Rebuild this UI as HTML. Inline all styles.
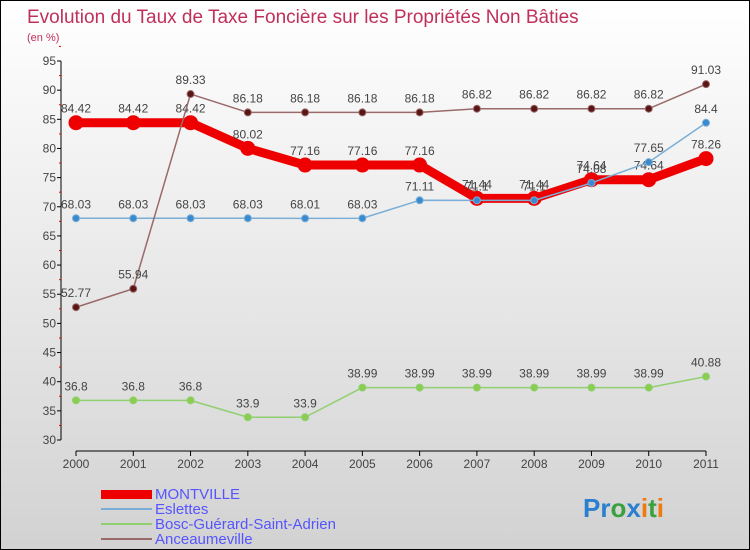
<!DOCTYPE html>
<html><head><meta charset="utf-8"><style>
body{margin:0}
#c{width:748px;height:548px;border:1px solid #000;background:linear-gradient(#fff,#d2d2d2);position:relative;font-family:"Liberation Sans",sans-serif;overflow:hidden}
</style></head><body>
<div id="c">
<svg id="s" width="748" height="548" style="position:absolute;left:0;top:0">
<text x="26" y="22" font-size="19" fill="#c0305a">Evolution du Taux de Taxe Foncière sur les Propriétés Non Bâties</text>
<text x="26" y="40" font-size="11" fill="#c0305a">(en %)</text>
<g id="ax"></g><g id="ser"></g>
<g font-size="15" fill="#5555ff">
<rect x="100" y="489" width="51" height="9" fill="#e00"/>
<text x="154" y="498">MONTVILLE</text>
<rect x="100" y="507" width="51" height="2" fill="#7aaed6"/>
<text x="154" y="513">Eslettes</text>
<rect x="100" y="522" width="51" height="2" fill="#90d070"/>
<text x="154" y="528">Bosc-Guérard-Saint-Adrien</text>
<rect x="100" y="537" width="51" height="2" fill="#9a6a6a"/>
<text x="154" y="543">Anceaumeville</text>
</g>
<text x="582" y="516" font-size="26" font-weight="bold"><tspan fill="#2a7fd0">Pr</tspan><tspan fill="#3aa040">o</tspan><tspan fill="#2a7fd0">x</tspan><tspan fill="#f07a10">i</tspan><tspan fill="#3aa040">t</tspan><tspan fill="#f07a10">i</tspan></text>
</svg>
</div>
<script>
const years=[2000,2001,2002,2003,2004,2005,2006,2007,2008,2009,2010,2011];
const yTicks=[30,35,40,45,50,55,60,65,70,75,80,85,90,95];
const montville=[84.42,84.42,84.42,80.02,77.16,77.16,77.16,71.44,71.44,74.64,74.64,78.26];
const eslettes=[68.03,68.03,68.03,68.03,68.01,68.03,71.11,71.1,71.1,74.08,77.65,84.4];
const bosc=[36.8,36.8,36.8,33.9,33.9,38.99,38.99,38.99,38.99,38.99,38.99,40.88];
const anceau=[52.77,55.94,89.33,86.18,86.18,86.18,86.18,86.82,86.82,86.82,86.82,91.03];
const NS="http://www.w3.org/2000/svg";
const X=i=>75+i*(630/11);
const Y=v=>439-(v-30)*(379/65);
function mk(t,a,p){const e=document.createElementNS(NS,t);for(const k in a)e.setAttribute(k,a[k]);if(p)p.appendChild(e);return e;}
const ax=document.getElementById('ax'),ser=document.getElementById('ser');
let yl=mk('line',{x1:60,x2:60,y1:Y(95),y2:Y(30),stroke:'#000'},ax);


yTicks.forEach(v=>{
 mk('line',{x1:56,x2:60,y1:Y(v),y2:Y(v),stroke:'#000'},ax);
 mk('line',{x1:58,x2:60,y1:Y(v+2.5),y2:Y(v+2.5),stroke:'#e00'},ax);
 let t=mk('text',{x:55,y:Y(v)+4,'text-anchor':'end','font-size':12,fill:'#444'},ax);t.textContent=v;
 
 
});
let xl=mk('line',{x1:X(0),x2:X(11),y1:463-13,y2:450,stroke:'#000'},ax);


years.forEach((y,i)=>{
 mk('line',{x1:X(i),x2:X(i),y1:450,y2:455,stroke:'#000'},ax);
 let t=mk('text',{x:X(i),y:467,'text-anchor':'middle','font-size':12,fill:'#444'},ax);t.textContent=y;
 
 
});
function draw(vals,name,color,w,r,fill){
 const g=mk('g',{},ser);
 
 
 mk('polyline',{points:vals.map((v,i)=>X(i)+','+Y(v)).join(' '),fill:'none',stroke:color,'stroke-width':w,'stroke-linejoin':'round'},g);
 vals.forEach((v,i)=>{
  const c=mk('circle',{cx:X(i),cy:Y(v),r:r,fill:fill,stroke:color,'stroke-width':1},g);
  
  
  const t=mk('text',{x:X(i),y:Y(v)-10,'text-anchor':'middle','font-size':12,fill:'#444'},g);t.textContent=v;
  
  
 });
}
draw(montville,'montville','#e00',9,7,'#e00');
draw(bosc,'bosc','#90d070',1.5,3.5,'#8acd50');
draw(eslettes,'eslettes','#7aaed6',1.5,3.5,'#3a8ad0');
draw(anceau,'anceaumeville','#9a6a6a',1.5,3.5,'#5a1515');
</script>
</body></html>
